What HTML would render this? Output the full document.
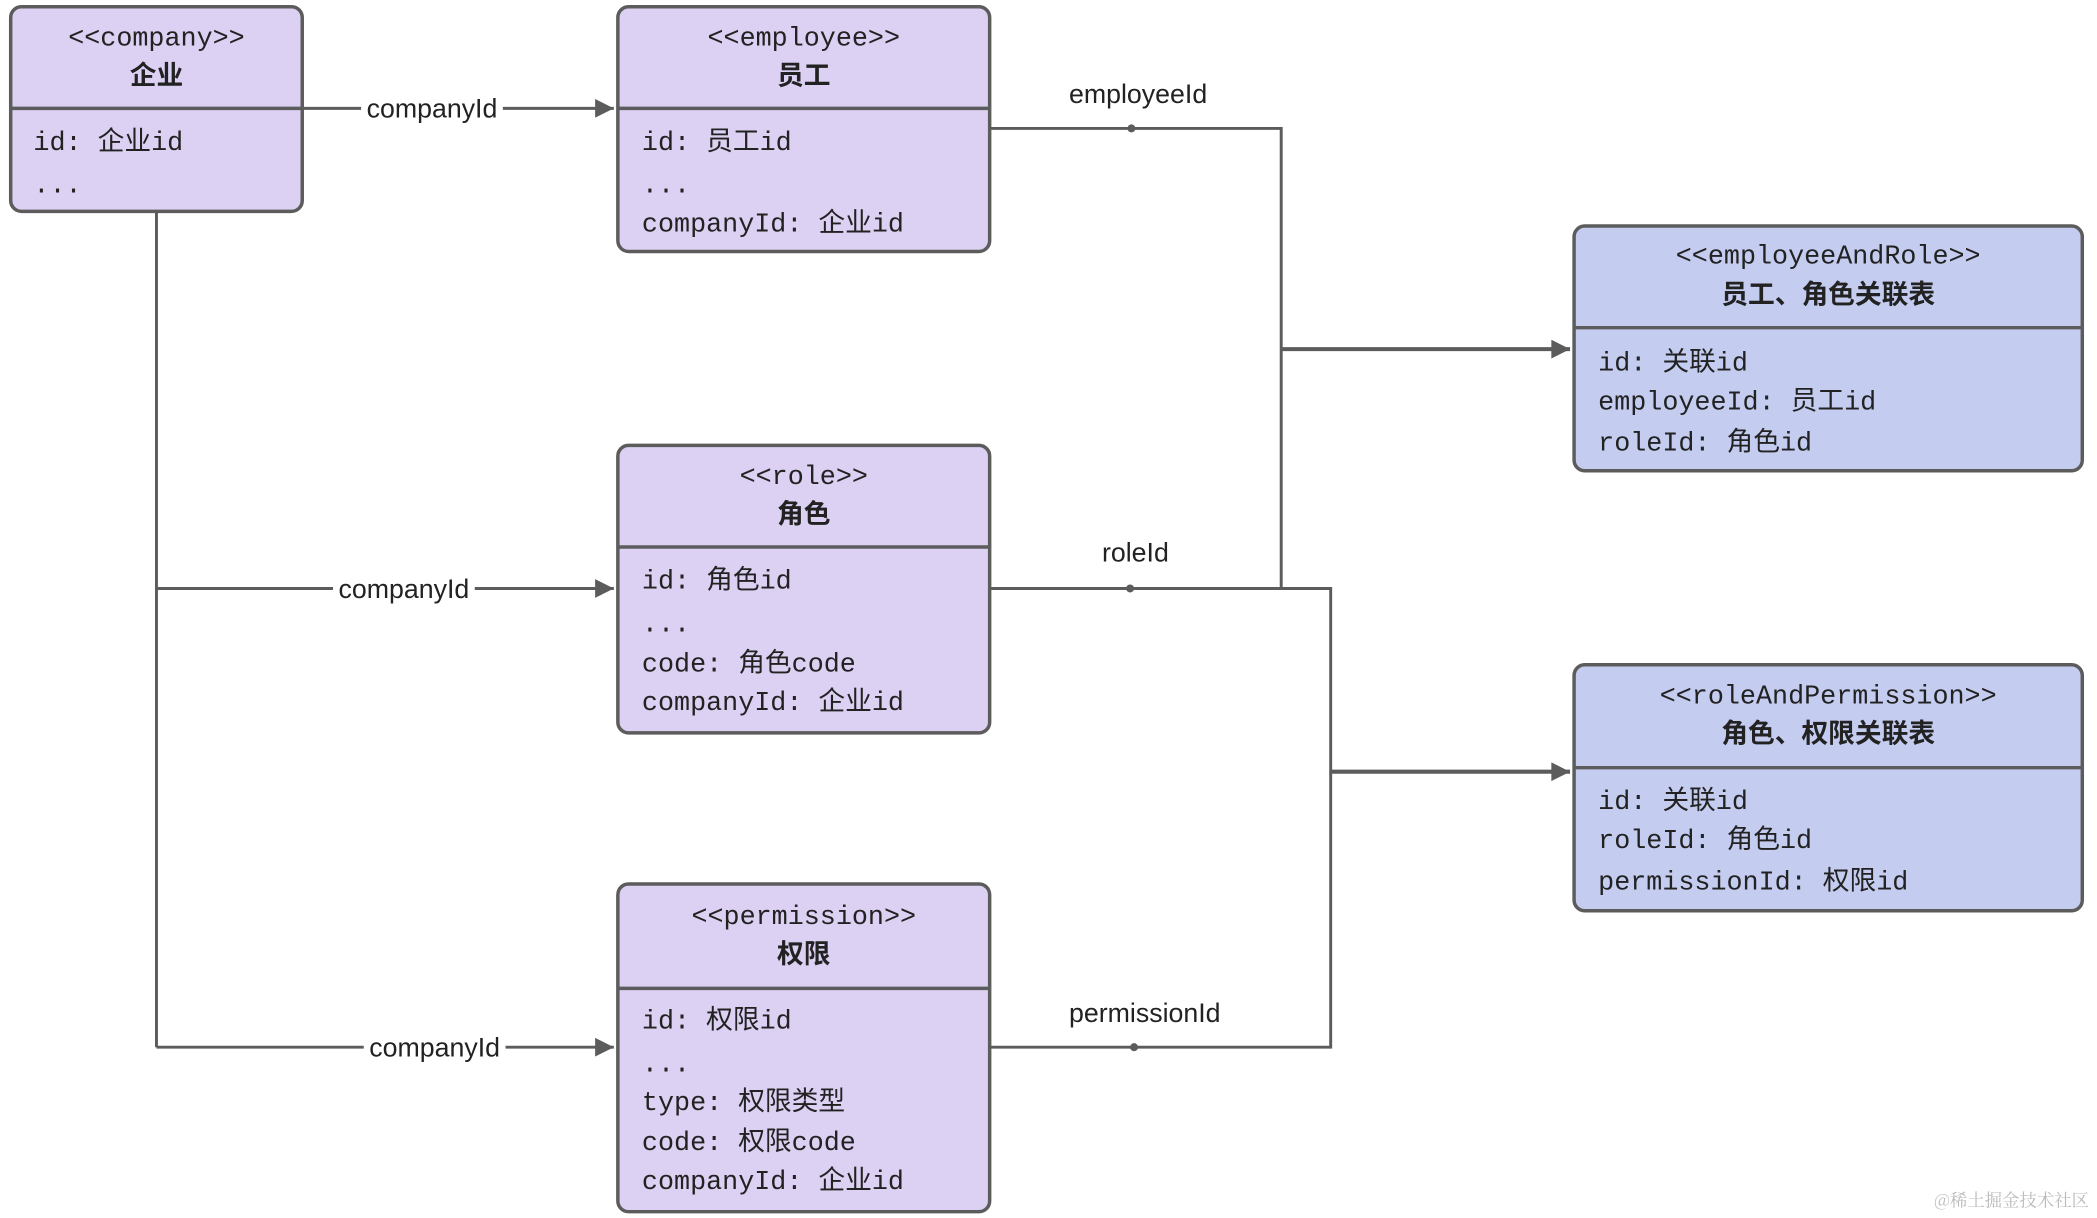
<!DOCTYPE html>
<html><head><meta charset="utf-8"><style>html,body{margin:0;padding:0;background:#fff}svg{display:block}</style></head><body>
<svg width="2097" height="1218" viewBox="0 0 1568 910.7" xmlns="http://www.w3.org/2000/svg">
<defs><marker id="b" viewBox="0 0 10 10" refX="10" refY="5" markerWidth="17" markerHeight="14" markerUnits="userSpaceOnUse" orient="auto"><path d="M0,0L10,5L0,10z" fill="#5c5c5c"/></marker></defs>
<g fill="none" stroke="#5c5c5c" stroke-width="2.2">
<path d="M226,81H459" marker-end="url(#b)"/>
<path d="M117,158V783"/>
<path d="M117,440H459" marker-end="url(#b)"/>
<path d="M117,783H459" marker-end="url(#b)"/>
<path d="M740,96H958V440"/>
<path d="M958,261H1174" stroke-width="3" marker-end="url(#b)"/>
<path d="M740,440H995V783H740"/>
<path d="M995,577H1174" stroke-width="3" marker-end="url(#b)"/>
</g>
<g fill="#5c5c5c"><circle cx="846" cy="96" r="3"/><circle cx="845" cy="440" r="3"/><circle cx="848" cy="783" r="3"/></g>
<g font-family="Liberation Sans, Noto Sans CJK SC, sans-serif" font-size="20" fill="#222" text-anchor="middle">
<rect x="270" y="68" width="106" height="26" fill="#fff"/><text x="323" y="88">companyId</text>
<rect x="249" y="427" width="106" height="26" fill="#fff"/><text x="302" y="447">companyId</text>
<rect x="272" y="770" width="106" height="26" fill="#fff"/><text x="325" y="790">companyId</text>
<text x="851" y="77">employeeId</text>
<text x="849" y="420">roleId</text>
<text x="856" y="764">permissionId</text>
</g>
<g stroke="#5c5c5c" stroke-width="2.6">
<rect x="8" y="5" width="218" height="153" rx="8" fill="#dcd0f3"/><path d="M8,81H226"/>
<rect x="462" y="5" width="278" height="183" rx="8" fill="#dcd0f3"/><path d="M462,81H740"/>
<rect x="462" y="333" width="278" height="215" rx="8" fill="#dcd0f3"/><path d="M462,409H740"/>
<rect x="462" y="661" width="278" height="245" rx="8" fill="#dcd0f3"/><path d="M462,739H740"/>
<rect x="1177" y="169" width="380" height="183" rx="8" fill="#c4ccf0"/><path d="M1177,245H1557"/>
<rect x="1177" y="497" width="380" height="184" rx="8" fill="#c4ccf0"/><path d="M1177,574H1557"/>
</g>
<g font-family="Liberation Mono, Noto Sans CJK SC, monospace" font-size="20" fill="#222">
<g text-anchor="middle">
<text x="117" y="34">&lt;&lt;company&gt;&gt;</text><text x="117" y="63" font-weight="bold" font-family="Noto Sans CJK SC, sans-serif">企业</text>
<text x="601" y="34">&lt;&lt;employee&gt;&gt;</text><text x="601" y="63" font-weight="bold" font-family="Noto Sans CJK SC, sans-serif">员工</text>
<text x="601" y="362">&lt;&lt;role&gt;&gt;</text><text x="601" y="391" font-weight="bold" font-family="Noto Sans CJK SC, sans-serif">角色</text>
<text x="601" y="691">&lt;&lt;permission&gt;&gt;</text><text x="601" y="720" font-weight="bold" font-family="Noto Sans CJK SC, sans-serif">权限</text>
<text x="1367" y="197">&lt;&lt;employeeAndRole&gt;&gt;</text><text x="1367" y="227" font-weight="bold" font-family="Noto Sans CJK SC, sans-serif">员工、角色关联表</text>
<text x="1367" y="526">&lt;&lt;roleAndPermission&gt;&gt;</text><text x="1367" y="555" font-weight="bold" font-family="Noto Sans CJK SC, sans-serif">角色、权限关联表</text>
</g>
<text x="25" y="112">id: 企业id</text><text x="25" y="144">...</text>
<text x="480" y="112">id: 员工id</text><text x="480" y="144">...</text><text x="480" y="173">companyId: 企业id</text>
<text x="480" y="440">id: 角色id</text><text x="480" y="472">...</text><text x="480" y="502">code: 角色code</text><text x="480" y="531">companyId: 企业id</text>
<text x="480" y="769">id: 权限id</text><text x="480" y="801">...</text><text x="480" y="830">type: 权限类型</text><text x="480" y="860">code: 权限code</text><text x="480" y="889">companyId: 企业id</text>
<text x="1195" y="277">id: 关联id</text><text x="1195" y="306">employeeId: 员工id</text><text x="1195" y="337">roleId: 角色id</text>
<text x="1195" y="605">id: 关联id</text><text x="1195" y="634">roleId: 角色id</text><text x="1195" y="665">permissionId: 权限id</text>
</g>
<text x="1562" y="902" text-anchor="end" font-family="Noto Serif CJK SC, serif" font-size="13" fill="#bbb">@稀土掘金技术社区</text>
</svg>
</body></html>
